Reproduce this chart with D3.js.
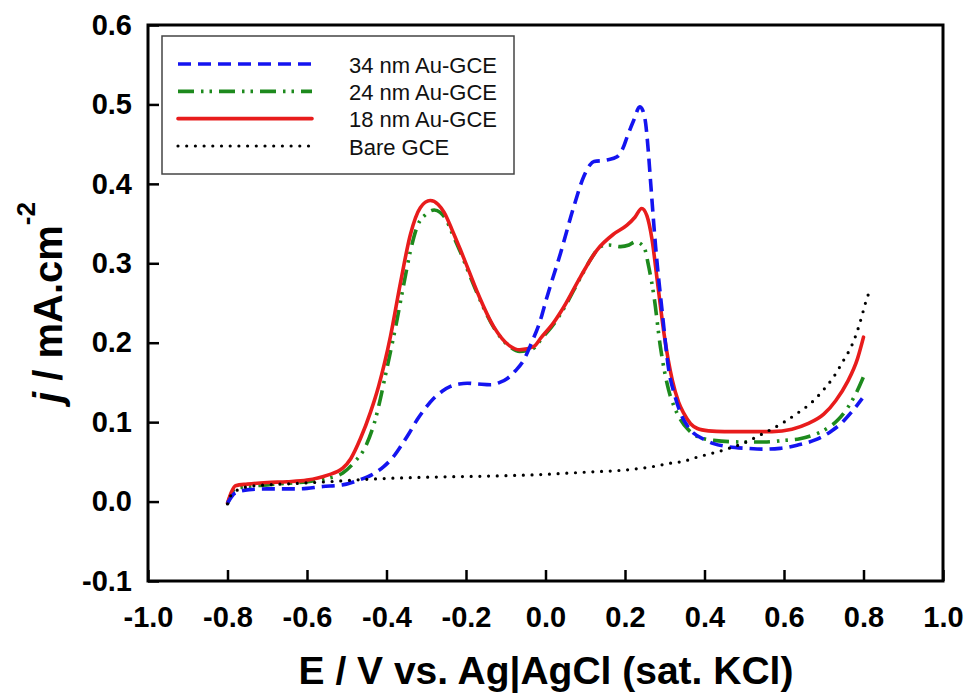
<!DOCTYPE html>
<html>
<head>
<meta charset="utf-8">
<script src="https://cdn.jsdelivr.net/npm/d3@7"></script>
<style>
	body { margin: 0; background: #fff; }
	svg { display: block; font-family: "Liberation Sans", Arial, sans-serif; }
</style>
</head>
<body>
<svg id="chart" width="966" height="694"></svg>
<script>
// potential (V) and current density (mA/cm2)
var e34 = [-0.80, -0.79, -0.78, -0.746, -0.70, -0.62, -0.56, -0.511, -0.47, -0.436, -0.407, -0.385, -0.365, -0.343, -0.323, -0.30, -0.281, -0.26, -0.239, -0.217, -0.197, -0.17, -0.138, -0.115, -0.096, -0.075, -0.055, -0.035, -0.015, 0.004, 0.038, 0.071, 0.096, 0.112, 0.122, 0.155, 0.18, 0.195, 0.206, 0.222, 0.237, 0.245, 0.252, 0.258, 0.264, 0.277, 0.294, 0.31, 0.325, 0.34, 0.356, 0.373, 0.40, 0.423, 0.46, 0.507, 0.549, 0.59, 0.633, 0.68, 0.717, 0.745, 0.767, 0.797];
var j34 = [-0.002, 0.006, 0.011, 0.015, 0.016, 0.016, 0.019, 0.021, 0.027, 0.034, 0.044, 0.055, 0.069, 0.086, 0.103, 0.119, 0.130, 0.139, 0.145, 0.148, 0.149, 0.148, 0.147, 0.150, 0.155, 0.165, 0.178, 0.200, 0.225, 0.258, 0.313, 0.371, 0.409, 0.424, 0.428, 0.430, 0.434, 0.445, 0.460, 0.480, 0.497, 0.492, 0.476, 0.445, 0.405, 0.321, 0.237, 0.166, 0.134, 0.111, 0.096, 0.086, 0.078, 0.073, 0.069, 0.067, 0.066, 0.067, 0.071, 0.078, 0.088, 0.099, 0.111, 0.130];

var e24 = [-0.80, -0.79, -0.78, -0.75, -0.70, -0.65, -0.60, -0.55, -0.51, -0.48, -0.453, -0.43, -0.398, -0.375, -0.356, -0.34, -0.323, -0.30, -0.28, -0.265, -0.25, -0.235, -0.214, -0.19, -0.17, -0.13, -0.09, -0.065, -0.03, -0.01, 0.02, 0.046, 0.088, 0.12, 0.138, 0.16, 0.189, 0.21, 0.226, 0.247, 0.26, 0.273, 0.289, 0.31, 0.325, 0.34, 0.36, 0.382, 0.423, 0.50, 0.55, 0.60, 0.64, 0.675, 0.705, 0.734, 0.76, 0.78, 0.80];
var j24 = [-0.003, 0.010, 0.017, 0.019, 0.021, 0.023, 0.025, 0.029, 0.036, 0.050, 0.069, 0.100, 0.170, 0.225, 0.275, 0.315, 0.346, 0.362, 0.367, 0.364, 0.355, 0.338, 0.314, 0.284, 0.260, 0.219, 0.195, 0.189, 0.193, 0.205, 0.223, 0.243, 0.282, 0.310, 0.321, 0.323, 0.321, 0.323, 0.327, 0.321, 0.295, 0.258, 0.195, 0.140, 0.118, 0.103, 0.090, 0.082, 0.077, 0.075, 0.075, 0.077, 0.079, 0.084, 0.091, 0.102, 0.118, 0.135, 0.157];

var e18 = [-0.80, -0.79, -0.78, -0.75, -0.70, -0.65, -0.60, -0.55, -0.51, -0.49, -0.465, -0.44, -0.42, -0.39, -0.365, -0.34, -0.315, -0.29, -0.27, -0.255, -0.235, -0.214, -0.19, -0.17, -0.13, -0.09, -0.065, -0.03, -0.01, 0.02, 0.046, 0.088, 0.13, 0.172, 0.205, 0.225, 0.242, 0.255, 0.268, 0.281, 0.298, 0.319, 0.335, 0.348, 0.365, 0.382, 0.41, 0.45, 0.50, 0.57, 0.62, 0.66, 0.70, 0.73, 0.76, 0.785, 0.80];
var j18 = [-0.002, 0.012, 0.020, 0.022, 0.024, 0.025, 0.027, 0.033, 0.042, 0.054, 0.080, 0.113, 0.145, 0.208, 0.275, 0.336, 0.370, 0.379, 0.374, 0.364, 0.342, 0.317, 0.287, 0.262, 0.220, 0.196, 0.191, 0.195, 0.207, 0.225, 0.245, 0.283, 0.317, 0.337, 0.348, 0.358, 0.369, 0.360, 0.330, 0.279, 0.212, 0.153, 0.125, 0.111, 0.098, 0.092, 0.089, 0.088, 0.088, 0.088, 0.091, 0.098, 0.110, 0.127, 0.151, 0.180, 0.207];

var eBare = [-0.80, -0.795, -0.788, -0.746, -0.70, -0.62, -0.545, -0.45, -0.35, -0.264, -0.15, -0.013, 0.10, 0.206, 0.27, 0.323, 0.34, 0.382, 0.449, 0.50, 0.549, 0.60, 0.633, 0.67, 0.70, 0.725, 0.75, 0.77, 0.784, 0.795, 0.805, 0.819];
var jBare = [-0.003, 0.004, 0.010, 0.019, 0.021, 0.023, 0.025, 0.028, 0.030, 0.031, 0.032, 0.034, 0.037, 0.040, 0.044, 0.049, 0.050, 0.056, 0.065, 0.074, 0.086, 0.100, 0.111, 0.125, 0.141, 0.157, 0.178, 0.196, 0.214, 0.232, 0.250, 0.270];

var seriesNames = ['34 nm Au-GCE', '24 nm Au-GCE', '18 nm Au-GCE', 'Bare GCE'];
var xTicks = [-1.0, -0.8, -0.6, -0.4, -0.2, 0.0, 0.2, 0.4, 0.6, 0.8, 1.0];
var yTicks = [-0.1, 0.0, 0.1, 0.2, 0.3, 0.4, 0.5, 0.6];

(function() {
	'use strict';

	var svg = d3.select('#chart');

	var x = d3.scaleLinear().domain([-1, 1]).range([148, 943]);
	var y = d3.scaleLinear().domain([-0.1, 0.6]).range([581, 25]);

	// plain hyphen for negatives, like the original figure
	var fmt = function(d) { return d.toFixed(1).replace('\u2212', '-'); };

	function zip(es, js) {
		return es.map(function(e, i) { return {e: e, j: js[i]}; });
	}

	var styles = [
		{data: zip(e34, j34), color: '#1414f0', width: 3.6, dash: '13,7', cap: 'butt'},
		{data: zip(e24, j24), color: '#1d8a1d', width: 3.6, dash: '16,7,2.5,6,2.5,7', cap: 'butt'},
		{data: zip(e18, j18), color: '#e81c1c', width: 3.6, dash: null, cap: 'round'},
		{data: zip(eBare, jBare), color: '#000', width: 3.2, dash: '0,8.7', cap: 'round'}
	];

	var line = d3.line()
		.curve(d3.curveMonotoneX)
		.x(function(d) { return x(d.e); })
		.y(function(d) { return y(d.j); });

	// Axes (ticks point inward)
	var xAxis = d3.axisBottom(x)
		.tickValues(xTicks)
		.tickFormat(fmt)
		.tickSizeInner(-11)
		.tickSizeOuter(0)
		.tickPadding(25);

	var yAxis = d3.axisLeft(y)
		.tickValues(yTicks)
		.tickFormat(fmt)
		.tickSizeInner(-11)
		.tickSizeOuter(0)
		.tickPadding(16);

	var gx = svg.append('g')
		.attr('transform', 'translate(0,' + y(-0.1) + ')')
		.call(xAxis);

	var gy = svg.append('g')
		.attr('transform', 'translate(' + x(-1) + ',0)')
		.call(yAxis);

	[gx, gy].forEach(function(g) {
		g.select('.domain').remove();
		g.attr('font-size', 29).attr('font-family', '"Liberation Sans", Arial, sans-serif');
		g.selectAll('line').attr('stroke', '#000').attr('stroke-width', 2.5);
		g.selectAll('text')
			.attr('fill', '#000')
			.style('font-size', '29px')
			.attr('font-weight', 'bold');
	});

	// Curves: draw order green, red, blue, bare
	[1, 2, 0, 3].forEach(function(i) {
		var s = styles[i];
		svg.append('path')
			.datum(s.data)
			.attr('fill', 'none')
			.attr('stroke', s.color)
			.attr('stroke-width', s.width)
			.attr('stroke-linecap', s.cap)
			.attr('stroke-linejoin', 'round')
			.attr('stroke-dasharray', s.dash)
			.attr('d', line);
	});

	// Frame
	svg.append('rect')
		.attr('x', x(-1))
		.attr('y', y(0.6))
		.attr('width', x(1) - x(-1))
		.attr('height', y(-0.1) - y(0.6))
		.attr('fill', 'none')
		.attr('stroke', '#000')
		.attr('stroke-width', 3);

	// Legend
	var legend = svg.append('g');
	legend.append('rect')
		.attr('x', 162)
		.attr('y', 36)
		.attr('width', 352)
		.attr('height', 138)
		.attr('fill', '#fff')
		.attr('stroke', '#444')
		.attr('stroke-width', 1.5);

	var rowY = d3.scaleLinear().domain([0, 3]).range([64, 146]);

	seriesNames.forEach(function(name, i) {
		var s = styles[i];
		legend.append('line')
			.attr('x1', 178)
			.attr('x2', 312)
			.attr('y1', rowY(i))
			.attr('y2', rowY(i))
			.attr('stroke', s.color)
			.attr('stroke-width', s.width)
			.attr('stroke-linecap', s.cap)
			.attr('stroke-dasharray', s.dash);
		legend.append('text')
			.attr('x', 349)
			.attr('y', rowY(i) + 8.5)
			.attr('font-size', 22)
			.attr('fill', '#111')
			.text(name);
	});

	// Axis titles
	svg.append('text')
		.attr('x', 546)
		.attr('y', 684)
		.attr('text-anchor', 'middle')
		.attr('font-size', 39)
		.attr('font-weight', 'bold')
		.text('E / V vs. Ag|AgCl (sat. KCl)');

	var yt = svg.append('text')
		.attr('transform', 'translate(62,403) rotate(-90)')
		.attr('font-size', 40)
		.attr('font-weight', 'bold');
	yt.append('tspan').attr('font-style', 'italic').text('j');
	yt.append('tspan').text(' / mA.cm');
	yt.append('tspan').attr('font-size', 26).attr('dy', -27).text('-2');

})();
</script>
</body>
</html>
